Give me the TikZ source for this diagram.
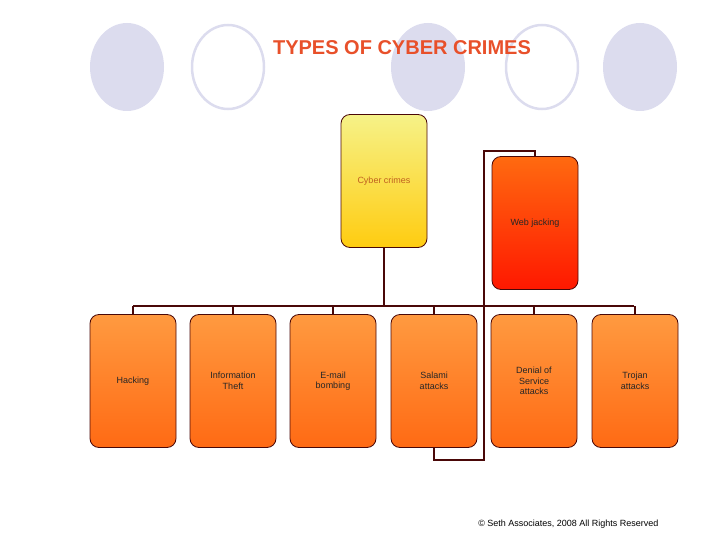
\documentclass[tikz,border=0pt]{standalone}
\usepackage{fontspec}
\setmainfont{Liberation Sans}
\definecolor{brn}{HTML}{4A0808}
\definecolor{lav}{HTML}{DCDCEE}
\definecolor{obt}{HTML}{FF9A40}
\definecolor{obb}{HTML}{FF6A14}
\definecolor{ttl}{HTML}{E8502A}
\definecolor{cct}{HTML}{F6F288}
\definecolor{ccb}{HTML}{FFCC10}
\definecolor{cctx}{HTML}{C06020}
\definecolor{wjt}{HTML}{FF6A10}
\definecolor{wjb}{HTML}{FF1800}
\begin{document}
\begin{tikzpicture}[x=1pt,y=-1pt,
  box/.style={draw=brn,line width=0.8pt,rounded corners=9pt,minimum width=86pt,minimum height=133pt,align=center,font=\fontsize{9}{10.5}\selectfont,text=black!85,inner sep=1pt},
  orbox/.style={box,top color=obt,bottom color=obb},
  conn/.style={draw=brn,line width=2.8pt},
  fcirc/.style={fill=lav,draw=none},
  ocirc/.style={draw=lav,line width=2.5pt}]
\useasboundingbox (0,0) rectangle (720,540);
\fill[fcirc] (127,67) ellipse (37 and 44);
\draw[ocirc] (228,67) ellipse (36 and 42);
\fill[fcirc] (428,67) ellipse (37 and 44);
\draw[ocirc] (542,67) ellipse (36 and 42);
\fill[fcirc] (640,67) ellipse (37 and 44);
\node[font=\bfseries\fontsize{20}{24}\selectfont,text=ttl] (title) at (402,48) {TYPES OF CYBER CRIMES};
\coordinate (bl) at (133,306); \coordinate (br) at (634,306);
\node[box,top color=cct,bottom color=ccb,text=cctx] (cc) at (384,181) {Cyber crimes};
\node[box,top color=wjt,bottom color=wjb] (wj) at (535,223) {Web jacking};
\node[orbox] (h) at (133,381) {Hacking};
\node[orbox] (it) at (233,381) {Information\\Theft};
\node[orbox] (em) at (333,381) {E-mail\\bombing};
\node[orbox] (sa) at (434,381) {Salami\\attacks};
\node[orbox] (dos) at (534,381) {Denial of\\Service\\attacks};
\node[orbox] (tr) at (635,381) {Trojan\\attacks};
\draw[conn] (bl) -- (br);
\draw[conn] (cc.south) -- (cc.south |- bl);
\foreach \n in {h,it,em,sa,dos,tr} \draw[conn] (\n.north) -- (\n.north |- bl);
\coordinate (c1) at (535,151); \coordinate (c2) at (484,151);
\coordinate (c3) at (484,460); \coordinate (c4) at (434,460);
\draw[conn] (wj.north) -- (c1) -- (c2) -- (c3) -- (c4) -- (sa.south);
\node[font=\fontsize{9}{10}\selectfont,anchor=east] (copy) at (662,524) {© Seth Associates, 2008 All Rights Reserved};
\end{tikzpicture}
\end{document}
